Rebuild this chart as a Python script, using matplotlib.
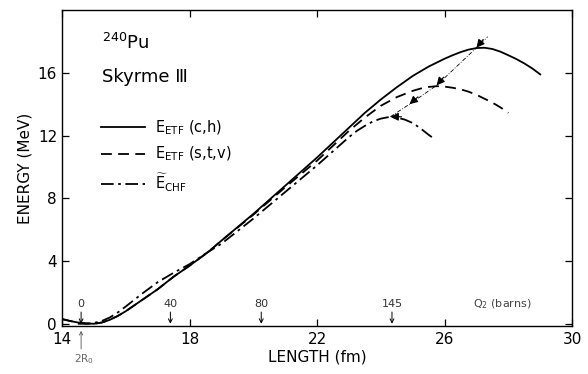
import matplotlib
matplotlib.use("Agg")
import matplotlib.pyplot as plt
import numpy as np

# Solid: E_ETF (c,h)
L_ch = [14.0, 14.25, 14.5, 14.75, 15.0, 15.25, 15.5, 15.75, 16.0, 16.5, 17.0, 17.5, 18.0, 18.6,
        19.0, 20.0, 21.0, 22.0, 23.0, 23.5, 24.0, 24.5, 25.0, 25.5, 26.0, 26.25, 26.5, 26.75,
        27.0, 27.25, 27.5, 27.75, 28.0, 28.25, 28.5, 28.75, 29.0]
E_ch = [0.3, 0.18, 0.08, 0.02, 0.0, 0.08, 0.25, 0.5, 0.8, 1.5, 2.2, 3.0, 3.7, 4.6,
        5.3, 7.0, 8.8, 10.6, 12.5, 13.45, 14.3, 15.08, 15.8, 16.4, 16.9, 17.12, 17.32, 17.48,
        17.58, 17.6, 17.52, 17.35, 17.12, 16.88, 16.6, 16.28, 15.9]

# Dashed: E_ETF (s,t,v)
L_stv = [14.0, 14.25, 14.5, 14.75, 15.0, 15.25, 15.5, 15.75, 16.0, 16.5, 17.0, 17.5, 18.0, 18.6,
         19.0, 20.0, 21.0, 22.0, 23.0, 23.5, 24.0, 24.5, 25.0, 25.25, 25.5, 25.75, 26.0, 26.25,
         26.5, 26.75, 27.0, 27.25, 27.5, 27.75, 28.0]
E_stv = [0.3, 0.18, 0.08, 0.02, 0.0, 0.08, 0.25, 0.5, 0.8, 1.5, 2.2, 3.0, 3.7, 4.6,
         5.3, 6.95, 8.7, 10.4, 12.3, 13.15, 13.9, 14.45, 14.85, 15.0, 15.1, 15.15, 15.12, 15.05,
         14.95, 14.8, 14.6, 14.35, 14.1, 13.8, 13.45]

# Dash-dot: E~_CHF
L_chf = [14.5, 14.75, 15.0, 15.25, 15.5, 15.75, 16.0, 16.5, 17.0, 17.5, 18.0, 18.6, 19.0, 20.0,
         21.0, 22.0, 23.0, 23.25, 23.5, 23.75, 24.0, 24.25, 24.5, 24.75, 25.0, 25.25, 25.5, 25.6]
E_chf = [0.0, 0.0, 0.05, 0.18, 0.4, 0.72, 1.1, 1.9, 2.65, 3.25, 3.8, 4.6, 5.1, 6.7,
         8.4, 10.1, 11.9, 12.3, 12.62, 12.9, 13.08, 13.18, 13.15, 13.02, 12.8, 12.45, 12.05, 11.9]

# Barrier (saddle) points joined by thin line
L_bar = [24.3, 24.9, 25.75, 27.0, 27.35]
E_bar = [13.2, 14.0, 15.2, 17.6, 18.3]

# Q2 markers along the length axis
Q2_L = [14.6, 17.4, 20.25, 24.35]
Q2_lab = ["0", "40", "80", "145"]

xticks = [14, 18, 22, 26, 30]
yticks = [0, 4, 8, 12, 16]

fig = plt.figure(figsize=(5.88, 3.74), dpi=100)
ax = fig.add_axes([0.1054, 0.128, 0.8676, 0.845])

ax.plot(L_ch, E_ch, color="black", lw=1.3, ls="-", label=r"E$_{\rm ETF}$ (c,h)")
ax.plot(L_stv, E_stv, color="black", lw=1.3, ls=(0, (6, 3.5)), label=r"E$_{\rm ETF}$ (s,t,v)")
ax.plot(L_chf, E_chf, color="black", lw=1.3, ls=(0, (7, 2.5, 1.5, 2.5)), label=r"$\widetilde{\rm E}_{\rm CHF}$")

ax.plot(L_bar, E_bar, color="black", lw=0.6, ls=(0, (5, 2, 1, 2)))
for i in range(4):
    dx = L_bar[i + 1] - L_bar[i]
    dy = E_bar[i + 1] - E_bar[i]
    n = np.hypot(dx / 16.0, dy / 20.0)
    if i == 0:
        ax.annotate("", xy=(L_bar[i], E_bar[i]), xytext=(L_bar[i] + 0.35, E_bar[i]),
                    arrowprops=dict(arrowstyle="-|>", color="black", lw=0.8,
                                    mutation_scale=12, shrinkA=0, shrinkB=0))
    else:
        ax.annotate("", xy=(L_bar[i], E_bar[i]),
                    xytext=(L_bar[i] + 0.025 * dx / n, E_bar[i] + 0.025 * dy / n * 1.25),
                    arrowprops=dict(arrowstyle="-|>", color="black", lw=0.8,
                                    mutation_scale=12, shrinkA=0, shrinkB=0))

for xq, lab in zip(Q2_L, Q2_lab):
    ax.annotate("", xy=(xq, 0.0), xytext=(xq, 0.75),
                arrowprops=dict(arrowstyle="->", color="black", lw=0.7,
                                shrinkA=0, shrinkB=0, mutation_scale=7))
    ax.text(xq, 1.25, lab, ha="center", va="center", fontsize=8, color="#333333")
ax.text(27.8, 1.25, r"Q$_2$ (barns)", ha="center", va="center", fontsize=8, color="#444444")

ax.annotate("", xy=(Q2_L[0], -0.45), xytext=(Q2_L[0], -1.6),
            arrowprops=dict(arrowstyle="->", color="#555555", lw=0.6,
                            shrinkA=0, shrinkB=0, mutation_scale=6),
            annotation_clip=False)
ax.text(Q2_L[0] + 0.1, -1.8, r"2R$_0$", ha="center", va="top", fontsize=7.5,
        color="#666666", clip_on=False)

ax.text(15.25, 17.9, r"$^{240}$Pu", fontsize=13, ha="left", va="center")
ax.text(15.25, 15.75, "Skyrme Ⅲ", fontsize=13, ha="left", va="center")

leg = ax.legend(loc="upper left", bbox_to_anchor=(0.065, 0.675), frameon=False,
                handlelength=3.0, handletextpad=0.7, fontsize=10.5, labelspacing=0.55,
                borderaxespad=0)

ax.set_xlim(14, 30)
ax.set_ylim(-0.15, 20)
ax.set_xticks(xticks)
ax.set_yticks(yticks)
ax.tick_params(direction="in", length=5, width=0.9, labelsize=11, top=True, right=True)
ax.tick_params(axis="x", pad=4)
for s in ax.spines.values():
    s.set_linewidth(1.0)

ax.set_xlabel("LENGTH (fm)", fontsize=11, labelpad=2)
ax.set_ylabel("ENERGY (MeV)", fontsize=11, labelpad=4)

fig.savefig("out.png", dpi=100)
